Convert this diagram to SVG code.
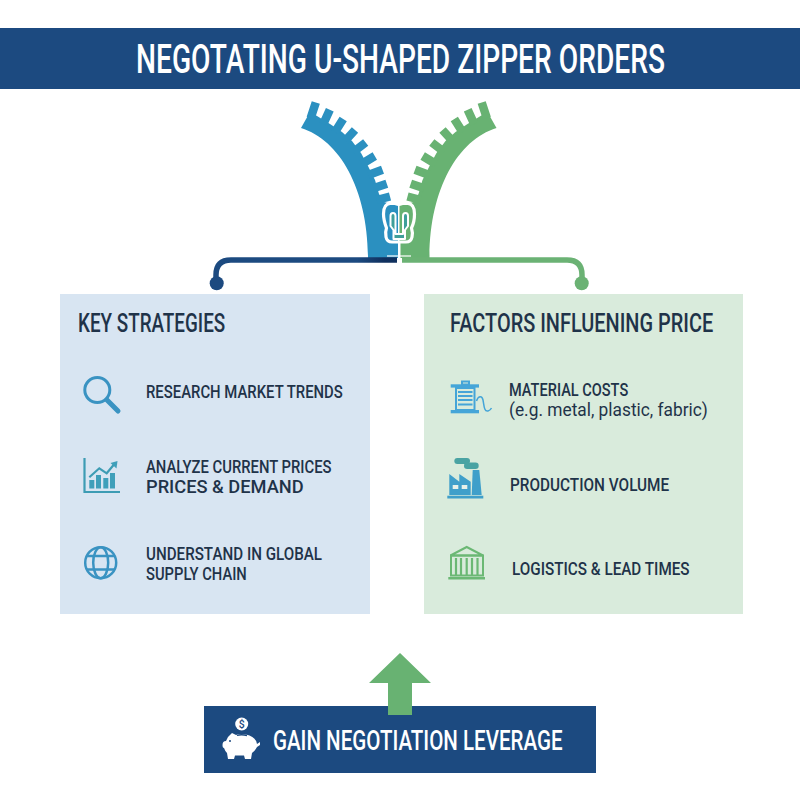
<svg xmlns="http://www.w3.org/2000/svg" xmlns:xlink="http://www.w3.org/1999/xlink" width="800" height="800" viewBox="0 0 800 800">
<style>
text{font-family:Roboto,"Liberation Sans",sans-serif;font-weight:500;fill:#1f3349}
.light{fill:#ffffff}
.reg{font-weight:400}
.h{font-size:26px}
.t{font-size:19px}
.navy{fill:#1c4a80}
.ic{fill:none;stroke:#3a93c2;stroke-width:3}
.teal{fill:none;stroke:#3d9cb4;stroke-width:2.2}
.tf{fill:#3f9fba}
.sp{fill:none;stroke:#45a5d8;stroke-width:2}
.spf{fill:#45a5d8}
.fa{fill:#3f9fca}
.sm{fill:#4aa3a3}
.gr{fill:none;stroke:#6bb874;stroke-width:2}
.grf{fill:#6bb874}
.conn{fill:none;stroke-width:5.5;stroke-linecap:butt}
.tooth{fill:none;stroke-width:8.5}
</style>
<defs>
<linearGradient id="navyline" gradientUnits="userSpaceOnUse" x1="216" y1="0" x2="397" y2="0">
<stop offset="0" stop-color="#1c4a80"/><stop offset="0.78" stop-color="#1c4a80"/><stop offset="0.93" stop-color="#10305e"/><stop offset="1" stop-color="#10305e"/>
</linearGradient>
<g id="half">
<path stroke="none" d="M301,128 C340,140 368,190 368,258 H398 V206 L384,202 L379,194 L375,180 L368,166 L361,153 L352,141 L342,132 L330,124 L317,116 L310,112 Z"/>
<path class="tooth" d="M315.800,102.500 L310.700,118 M329.800,109.700 L323.300,124 M343.200,119 L335,132 M355,130 L345,141 M365.700,142.500 L353.300,152 M374.800,156 L361.700,164 M382.500,169.700 L368.300,175 M386.800,183.700 L373.300,188.300 M390,196.500 L376.700,200"/>
</g>
</defs>
<rect width="800" height="800" fill="#ffffff"/>

<g id="header">
<rect class="navy" x="0" y="28" width="800" height="61"/>
<text class="light" transform="translate(136,73) scale(.76,1)" font-size="41" textLength="696" lengthAdjust="spacingAndGlyphs">NEGOTATING U-SHAPED ZIPPER ORDERS</text>
</g>

<g id="zipper">
<use xlink:href="#half" href="#half" fill="#2b90c0" stroke="#2b90c0"/>
<use xlink:href="#half" href="#half" transform="translate(797.5,0) scale(-1,1)" fill="#68b272" stroke="#68b272"/>
</g>

<g id="connectors">
<path class="conn" stroke="url(#navyline)" d="M397,260 H231 Q216,260 216,275 V284"/>
<circle cx="216.700" cy="283.300" r="7" fill="#1c4a80"/>
<path class="conn" stroke="#6bb274" d="M402,260 H567 Q582,260 582,275 V284"/>
<circle cx="581.700" cy="283.300" r="7" fill="#6bb274"/>
</g>

<g id="slider" fill="none" stroke="#ffffff" stroke-linejoin="round">
<path stroke-width="3.200" d="M390,203.500 H408 Q414.500,204 414.500,214 Q414.500,222 411.500,228 Q413,233 412,237 Q411,242 406,242 H392 Q387,242 386,237 Q385,232 386.500,228 Q383.500,220 383.500,214 Q383.500,204 390,203.500Z"/>
<path stroke-width="2" fill="#3f9f9a" d="M390.500,216 Q390.500,213 393,213 Q395.500,213 395.500,216 V234 H403 V216 Q403,213 405.500,213 Q408,213 408,216 V226 L405,230 V239 H393.500 V230 L390.500,226Z"/>
<path stroke-width="2" d="M399.500,243 V266"/>
<path stroke-width="1.200" d="M387,256 H411"/>
</g>

<g id="key-strategies">
<rect x="60" y="294" width="310" height="320" fill="#d8e5f2"/>
<text class="h" transform="translate(78,332) scale(.8,1)" textLength="184" lengthAdjust="spacingAndGlyphs">KEY STRATEGIES</text>
</g>
<g id="research">
<circle class="ic" cx="97.300" cy="390" r="12.500"/>
<path class="ic" stroke-linecap="round" style="stroke-width:5" d="M107,400 L118,411"/>
<text class="t" transform="translate(146,398) scale(.8,1)" textLength="246" lengthAdjust="spacingAndGlyphs">RESEARCH MARKET TRENDS</text>
</g>
<g id="analyze">
<path class="teal" d="M84.500,458 V492 H120"/>
<rect class="tf" x="89.300" y="480" width="5" height="8.500"/>
<rect class="tf" x="96" y="475" width="5" height="13.500"/>
<rect class="tf" x="103.300" y="478" width="5" height="10.500"/>
<rect class="tf" x="110" y="473" width="5" height="15.500"/>
<path class="teal" d="M89.300,477.300 L99.300,468.300 L106.700,473.300 L115,463.300"/>
<path class="tf" d="M117.500,461 L116.500,468.500 L110.500,463Z"/>
<text class="t" transform="translate(146,473) scale(.8,1)" textLength="232" lengthAdjust="spacingAndGlyphs">ANALYZE CURRENT PRICES</text>
<text class="t" transform="translate(146,493) scale(.8,1)" textLength="197" lengthAdjust="spacingAndGlyphs">PRICES &amp; DEMAND</text>
</g>
<g id="understand">
<g class="ic" style="stroke-width:2.500">
<circle cx="100.700" cy="562.700" r="15.500"/>
<ellipse cx="100.700" cy="562.700" rx="7.500" ry="15.500"/>
<path d="M87,556 H114.500 M87,569.500 H114.500"/>
</g>
<text class="t" transform="translate(146,560) scale(.8,1)" textLength="220" lengthAdjust="spacingAndGlyphs">UNDERSTAND IN GLOBAL</text>
<text class="t" transform="translate(146,580) scale(.8,1)" textLength="126" lengthAdjust="spacingAndGlyphs">SUPPLY CHAIN</text>
</g>

<g id="factors">
<rect x="424" y="294" width="319" height="320" fill="#d9ebdc"/>
<text class="h" transform="translate(450,332) scale(.8,1)" textLength="329" lengthAdjust="spacingAndGlyphs">FACTORS INFLUENING PRICE</text>
</g>
<g id="material">
<rect class="spf" x="450.700" y="384.300" width="28.300" height="3.300"/>
<rect class="sp" x="462" y="381.500" width="7" height="3"/>
<rect class="sp" x="456" y="388" width="18.500" height="22"/>
<path class="sp" d="M458,392 H472.500 M458,396 H472.500 M458,400 H472.500 M458,404.500 H472.500"/>
<rect class="spf" x="450.700" y="410" width="28.300" height="3.300"/>
<path class="sp" style="stroke-width:1.500" d="M476.500,401 C478,396 482,395 483,400 C484,405 484,412 488,411 C490,410.500 491,409 491.500,408"/>
<text class="t" transform="translate(509,396) scale(.8,1)" textLength="149" lengthAdjust="spacingAndGlyphs">MATERIAL COSTS</text>
<text class="t reg" transform="translate(509,416) scale(.85,1)" textLength="234" lengthAdjust="spacingAndGlyphs">(e.g. metal, plastic, fabric)</text>
</g>
<g id="volume">
<rect class="sm" x="454.300" y="458" width="15.700" height="6" rx="3"/>
<rect class="sm" x="464" y="462.500" width="14.700" height="6.500" rx="3.200"/>
<path class="fa" d="M449.300,474 L459.300,481.700 V474 L470.700,481.700 V495 H449.300Z"/>
<rect x="452.700" y="485" width="5.600" height="4" fill="#e6f1ea"/>
<rect x="461.700" y="485" width="5.600" height="4" fill="#e6f1ea"/>
<path class="fa" d="M472.700,470 H479.300 L481.700,495 H471.700Z"/>
<rect class="fa" x="447.300" y="495.700" width="36" height="2.800"/>
<text class="t" transform="translate(510,491) scale(.8,1)" textLength="199" lengthAdjust="spacingAndGlyphs">PRODUCTION VOLUME</text>
</g>
<g id="logistics">
<path class="gr" d="M450.500,555.500 L466.700,547 L483,555.500Z"/>
<rect class="gr" x="451" y="555.500" width="32" height="20"/>
<path class="gr" style="stroke-width:2.200" d="M456,558 V575 M461,558 V575 M466.700,558 V575 M472,558 V575 M477.500,558 V575"/>
<rect class="grf" x="448.300" y="577" width="36.700" height="2.500"/>
<text class="t" transform="translate(512,575) scale(.8,1)" textLength="222" lengthAdjust="spacingAndGlyphs">LOGISTICS &amp; LEAD TIMES</text>
</g>

<g id="arrow">
<path fill="#68b272" d="M400,653 L431,683 H412 V715 H388 V683 H369Z"/>
</g>
<g id="leverage">
<path class="navy" d="M204,706 H388 V715 H412 V706 H596 V773 H204Z"/>
<circle cx="241.700" cy="724" r="6.500" fill="#ffffff"/>
<text x="241.700" y="728" font-size="10.500" text-anchor="middle" style="fill:#1c4a80">$</text>
<path fill="#ffffff" d="M228,737 L232,733 L236,735 Q240,733.500 246,734.500 Q256,737 257,744 L260,742 L260,745 L257,747 Q255,751 252,753 L251,759 H245 L244,755.500 H235 L234,759 H228 L227,753 Q225,751 224,748 Q222.500,748 222.500,745 Q222.500,741 226,741Z"/>
<path d="M237,735.500 Q241,734 247,735.500" fill="none" stroke="#1c4a80" stroke-width="1.300"/>
<circle cx="230" cy="741" r="1" fill="#1c4a80"/>
<text class="light" transform="translate(273,750) scale(.8,1)" font-size="27" textLength="362" lengthAdjust="spacingAndGlyphs">GAIN NEGOTIATION LEVERAGE</text>
</g>
</svg>
